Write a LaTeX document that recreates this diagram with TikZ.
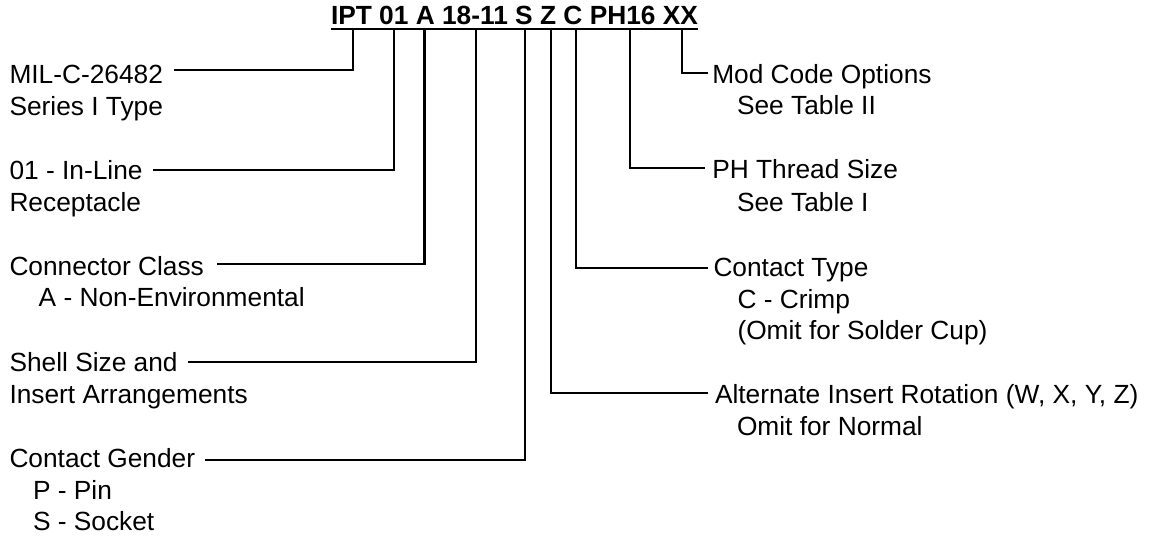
\documentclass[tikz,border=0pt]{standalone}
\usepackage{fontspec}
\setmainfont{Liberation Sans}
\usetikzlibrary{calc}
\begin{document}
\begin{tikzpicture}[x=1pt,y=-1pt,
  lab/.style={inner sep=0pt, outer sep=0pt, anchor=base west, font=\fontsize{26.3}{31.6}\selectfont},
  code/.style={inner sep=0pt, outer sep=0pt, anchor=base west, font=\fontsize{26.3}{31.6}\selectfont\bfseries},
  wire/.style={line width=2.1pt, line join=miter}]
\useasboundingbox (0,0) rectangle (1152,537);
% title groups
\node[code] (t1) at (331,25) {IPT};
\node[code] (t2) at ($(t1.base east)+(7.31,0)$) {01};
\node[code] (t3) at ($(t2.base east)+(7.31,0)$) {A};
\node[code] (t4) at ($(t3.base east)+(7.31,0)$) {18-11};
\node[code] (t5) at ($(t4.base east)+(7.31,0)$) {S};
\node[code] (t6) at ($(t5.base east)+(7.31,0)$) {Z};
\node[code] (t7) at ($(t6.base east)+(7.31,0)$) {C};
\node[code] (t8) at ($(t7.base east)+(7.31,0)$) {PH16};
\node[code] (t9) at ($(t8.base east)+(7.31,0)$) {XX};
\coordinate (ul) at ($(t1.base west)+(0,4.5)$);
\draw[line width=2pt] (ul) -- ($(t9.base east)+(0,4.5)$);
% left labels
\node[lab] (mil) at (9.5,83.3) {MIL-C-26482};
\node[lab] (mil2) at (9.5,115.7) {Series I Type};
\node[lab] (inl) at (9.5,180) {01 - In-Line};
\node[lab] (inl2) at (9.5,212) {Receptacle};
\node[lab] (cc) at (9.5,275.7) {Connector Class};
\node[lab] (cc2) at (38.7,307) {A - Non-Environmental};
\node[lab] (ss) at (9.5,371.7) {Shell Size and};
\node[lab] (ss2) at (9.5,404) {Insert Arrangements};
\node[lab] (cg) at (9.5,467.7) {Contact Gender};
\node[lab] (cg2) at (33,499.3) {P - Pin};
\node[lab] (cg3) at (33,530.5) {S - Socket};
% right labels
\node[lab] (mod) at (712.3,84) {Mod Code Options};
\node[lab] (mod2) at (737,115) {See Table II};
\node[lab] (ph) at (712.3,179) {PH Thread Size};
\node[lab] (ph2) at (737,211.7) {See Table I};
\node[lab] (ct) at (713.5,277) {Contact Type};
\node[lab] (ct2) at (737.5,308.3) {C - Crimp};
\node[lab] (ct3) at (737.5,339.8) {(Omit for Solder Cup)};
\node[lab] (alt) at (715,404) {Alternate Insert Rotation (W, X, Y, Z)};
\node[lab] (alt2) at (737,435.5) {Omit for Normal};
% connectors, left
\draw[wire] ($(t1.center |- ul)+(1.5,0)$) |- ($(mil.base east)+(11,-13.3)$);
\draw[wire] ($(t2.center |- ul)+(0,0)$) |- ($(inl.base east)+(10.5,-10)$);
\draw[wire] ($(t3.center |- ul)+(-0.8,0)$) |- ($(cc.base east)+(13,-11.4)$);
\draw[wire] ($(t4.center |- ul)+(0.8,0)$) |- ($(ss.base east)+(10.4,-10)$);
\draw[wire] ($(t5.center |- ul)+(0.6,0)$) |- ($(cg.base east)+(9.8,-7.7)$);
% connectors, right
\draw[wire] ($(t6.center |- ul)+(2.8,0)$) |- ($(alt.base west)+(-6.7,-10.7)$);
\draw[wire] ($(t7.center |- ul)+(3.1,0)$) |- ($(ct.base west)+(-5.2,-8.7)$);
\draw[wire] ($(t8.center |- ul)+(7.2,0)$) |- ($(ph.base west)+(-7.3,-10.7)$);
\draw[wire] ($(t9.center |- ul)+(1.2,0)$) |- ($(mod.base west)+(-4,-11.3)$);
\end{tikzpicture}
\end{document}
